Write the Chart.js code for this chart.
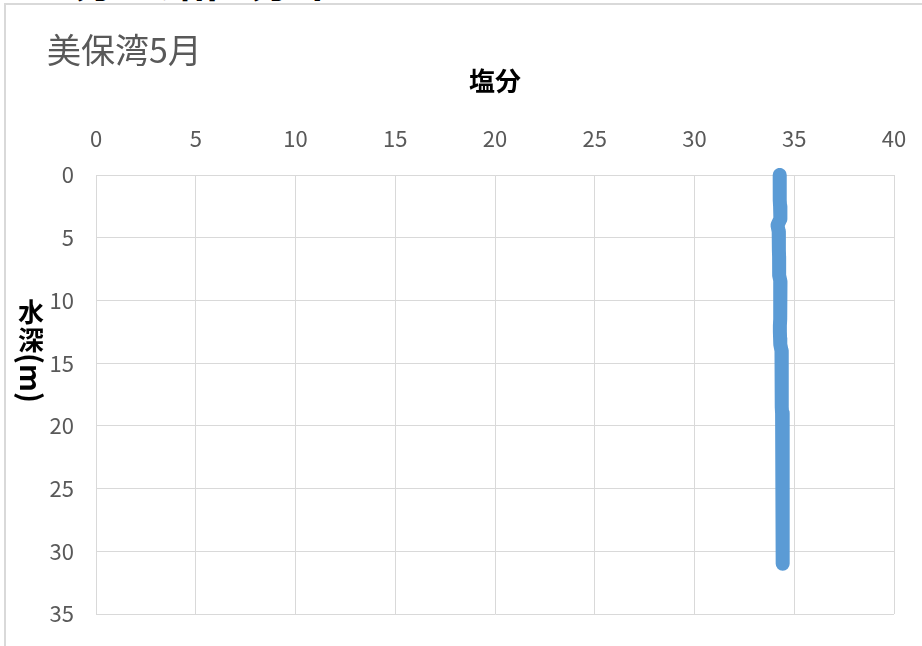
<!DOCTYPE html>
<html lang="ja">
<head>
<meta charset="utf-8">
<title>美保湾5月 塩分</title>
<script src="https://cdn.jsdelivr.net/npm/chart.js@4/dist/chart.umd.min.js"></script>
<style>
    html, body { margin: 0; padding: 0; background: #fff; overflow: hidden; }
    #wrap { position: relative; width: 922px; height: 646px; }
    #heading {
        position: absolute; left: 29px; top: -44px;
        font: bold 44px/1 "Noto Sans CJK JP", sans-serif; color: #000; white-space: nowrap;
    }
    #frame {
        position: absolute; left: 4px; top: 3px; width: 1000px; height: 1000px;
        border: 2px solid #d9d9d9; pointer-events: none;
    }
    canvas { position: absolute; left: 0; top: 0; }
</style>
</head>
<body>
<div id="wrap">
    <div id="heading">塩分の鉛直分布</div>
    <div id="frame"></div>
    <canvas id="salinityChart" width="922" height="646"></canvas>
</div>
<script>
// 水深 (m)
const depths = [
    0, 0.5, 1, 1.5, 2, 2.5, 3, 3.5, 4, 4.5,
    5, 5.5, 6, 6.5, 7, 7.5, 8, 8.5, 9, 9.5,
    10, 10.5, 11, 11.5, 12, 12.5, 13, 13.5, 14, 14.5,
    15, 15.5, 16, 16.5, 17, 17.5, 18, 18.5, 19, 19.5,
    20, 20.5, 21, 21.5, 22, 22.5, 23, 23.5, 24, 24.5,
    25, 25.5, 26, 26.5, 27, 27.5, 28, 28.5, 29, 29.5,
    30, 30.5, 31
];
// 塩分
const salinity = [
    34.27, 34.27, 34.27, 34.27, 34.28, 34.29, 34.31, 34.30, 34.16, 34.22,
    34.23, 34.23, 34.23, 34.24, 34.24, 34.24, 34.25, 34.31, 34.31, 34.30,
    34.30, 34.29, 34.29, 34.29, 34.28, 34.28, 34.29, 34.30, 34.36, 34.36,
    34.37, 34.37, 34.37, 34.37, 34.38, 34.38, 34.38, 34.38, 34.39, 34.39,
    34.39, 34.40, 34.42, 34.42, 34.41, 34.41, 34.41, 34.42, 34.42, 34.42,
    34.42, 34.42, 34.43, 34.43, 34.43, 34.43, 34.43, 34.43, 34.43, 34.43,
    34.43, 34.43, 34.43
];

const salinityTicks = [0, 5, 10, 15, 20, 25, 30, 35, 40];
const depthTicks = [0, 5, 10, 15, 20, 25, 30, 35];

const chartTitle = "美保湾5月";
const xTitle = "塩分";
const yTitleChars = ["水", "深"];
const yTitleUnit = "(m)";

const FONT = '"Noto Sans CJK JP", "Noto Sans", sans-serif';
const GRID = "#d9d9d9";

// 縦書きの軸タイトル（漢字は正立、単位は90度回転）
const verticalTitle = {
    id: "verticalTitle",
    afterDraw(chart) {
        const ctx = chart.ctx;
        ctx.save();
        ctx.fillStyle = "#000";
        ctx.font = "bold 26px " + FONT;
        ctx.textAlign = "center";
        ctx.textBaseline = "middle";
        yTitleChars.forEach((ch, i) => ctx.fillText(ch, 31, 312 + i * 28));
        ctx.font = "bold 29px " + FONT;
        ctx.translate(31, 353);
        ctx.rotate(Math.PI / 2);
        ctx.textAlign = "left";
        ctx.fillText(yTitleUnit, 0, 0);
        ctx.restore();
    }
};

const ctx = document.getElementById("salinityChart").getContext("2d");
new Chart(ctx, {
    type: "scatter",
    data: {
        datasets: [{
            data: depths.map((d, i) => ({ x: salinity[i], y: d })),
            showLine: true,
            borderColor: "#5b9bd5",
            backgroundColor: "#5b9bd5",
            borderWidth: 14,
            borderCapStyle: "round",
            borderJoinStyle: "round",
            pointRadius: 0,
            tension: 0,
            clip: false
        }]
    },
    options: {
        responsive: false,
        animation: false,
        layout: { padding: { left: 47, top: 0, right: 28, bottom: 32 } },
        plugins: {
            legend: { display: false },
            tooltip: { enabled: false },
            title: {
                display: true,
                text: chartTitle,
                align: "start",
                color: "#595959",
                font: { family: FONT, size: 34, weight: "normal", lineHeight: 1 },
                padding: { top: 33, bottom: 0 }
            }
        },
        scales: {
            x: {
                type: "linear",
                position: "top",
                min: 0,
                max: 40,
                afterBuildTicks: s => { s.ticks = salinityTicks.map(v => ({ value: v })); },
                afterFit: s => { s.height = 175 - 67; },
                ticks: { color: "#595959", padding: 0, font: { family: FONT, size: 22 } },
                // 目盛り線は透明にして、ラベルと枠の間隔だけ確保する
                grid: { color: GRID, drawTicks: true, tickLength: 23, tickColor: "rgba(0,0,0,0)" },
                border: { color: GRID },
                title: {
                    display: true,
                    text: xTitle,
                    color: "#000",
                    font: { family: FONT, size: 26, weight: "bold", lineHeight: 1 },
                    padding: { top: 1, bottom: 0 }
                }
            },
            y: {
                type: "linear",
                reverse: true,
                min: 0,
                max: 35,
                afterBuildTicks: s => { s.ticks = depthTicks.map(v => ({ value: v })); },
                afterFit: s => { s.width = 96 - 47; },
                ticks: { color: "#595959", padding: 0, font: { family: FONT, size: 22 } },
                grid: { color: GRID, drawTicks: true, tickLength: 22, tickColor: "rgba(0,0,0,0)" },
                border: { color: GRID }
            }
        }
    },
    plugins: [verticalTitle]
});
</script>
</body>
</html>
